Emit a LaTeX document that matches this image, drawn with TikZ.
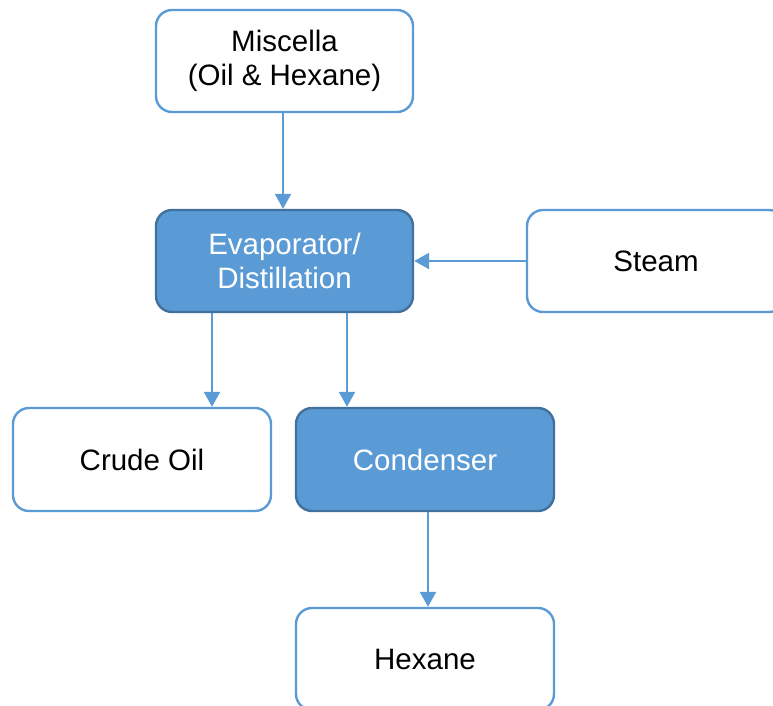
\documentclass[tikz,border=0pt]{standalone}
\usepackage{fontspec}
\setmainfont{Liberation Sans}
\usetikzlibrary{arrows.meta}
\definecolor{bblue}{HTML}{5B9BD5}
\definecolor{dblue}{HTML}{41719C}
\begin{document}
\begin{tikzpicture}[x=1pt,y=-1pt,
  box/.style={draw=bblue, line width=2.4pt, rounded corners=16pt, fill=white,
    minimum width=257pt, minimum height=102pt, align=center, inner sep=0pt,
    font=\fontsize{29.5}{34}\selectfont, text=black},
  fbox/.style={box, draw=dblue, fill=bblue, text=white},
  arr/.style={draw=bblue, line width=2.4pt, -{Triangle[width=16pt,length=15pt]}}]
\useasboundingbox (0,0) rectangle (773,706);
\node[box] (misc) at (284.5,61) {Miscella\\(Oil \& Hexane)};
\node[fbox] (evap) at (284.5,261) {Evaporator/\\Distillation};
\node[box, minimum width=258pt] (steam) at (656,261) {Steam};
\node[box, minimum width=258pt, minimum height=103pt] (crude) at (142,459.5) {Crude Oil};
\node[fbox, minimum width=258pt, minimum height=103pt] (cond) at (425,459.5) {Condenser};
\node[box, minimum width=258pt] (hex) at (425,659) {Hexane};
\coordinate (xa) at (212,0);
\coordinate (xb) at (347,0);
\coordinate (xc) at (283,0);
\coordinate (xd) at (428,0);
\draw[arr] (misc.south -| xc) -- (evap.north -| xc);
\draw[arr] (steam.west) -- (evap.east);
\draw[arr] (evap.south -| xa) -- (crude.north -| xa);
\draw[arr] (evap.south -| xb) -- (cond.north -| xb);
\draw[arr] (cond.south -| xd) -- (hex.north -| xd);
\end{tikzpicture}
\end{document}
